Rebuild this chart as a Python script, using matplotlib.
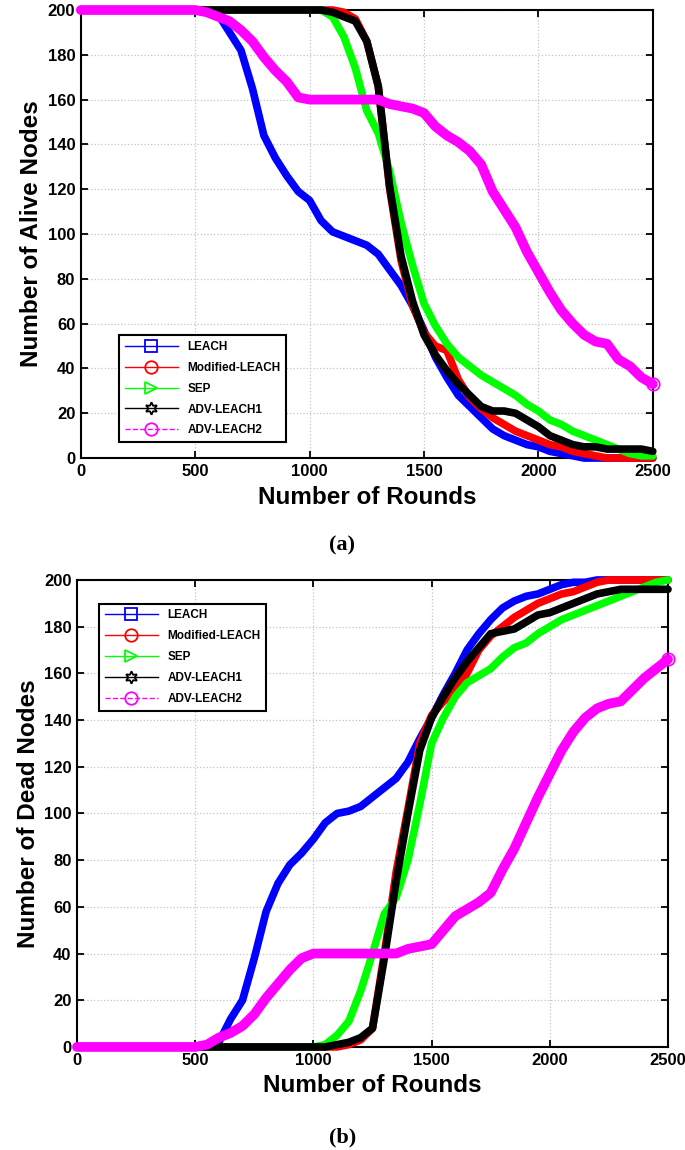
import numpy as np
import matplotlib.pyplot as plt
from matplotlib.lines import Line2D

plt.rcParams["font.family"] = ["Liberation Sans", "DejaVu Sans"]
plt.rcParams["font.weight"] = "bold"

# -- Data (every 50 rounds) ---------------------------------------------------

rounds = np.arange(0, 2501, 50)

# (a) alive nodes
alive_leach = [200] * 12 + [198, 190, 182, 165, 144, 134, 126, 119, 115, 106, 101,
                            99, 97, 95, 91, 84, 77, 68, 57, 45, 36, 28, 23, 18, 13,
                            10, 8, 6, 5, 3, 2, 1] + [0] * 7
alive_mod = [200] * 23 + [199, 196, 186, 166, 120, 88, 68, 56, 50, 48, 35, 27, 22,
                          18, 15, 12, 10, 8, 6, 5, 3, 2, 1] + [0] * 5
alive_sep = [200] * 22 + [197, 188, 174, 155, 145, 128, 105, 86, 69, 59, 51, 45, 41,
                          37, 34, 31, 28, 24, 21, 17, 15, 12, 10, 8, 6, 4, 2, 1, 1]
alive_adv1 = [200] * 22 + [199, 197, 195, 186, 166, 121, 90, 70, 55, 46, 39, 33, 28,
                           23, 21, 21, 20, 17, 14, 10, 8, 6, 5, 5, 4, 4, 4, 4, 3]
alive_adv2 = [200] * 11 + [199, 197, 195, 191, 186, 179, 173, 168, 161] + [160] * 7 + \
             [158, 157, 156, 154, 148, 144, 141, 137, 131, 119, 111, 103, 92, 83, 74,
              66, 60, 55, 52, 51, 44, 41, 36, 33]

# (b) dead nodes
dead_leach = [0] * 12 + [2, 12, 20, 38, 58, 70, 78, 83, 89, 96, 100, 101, 103, 107,
                         111, 115, 122, 132, 141, 151, 160, 170, 177, 183, 188, 191,
                         193, 194, 196, 198, 199, 199] + [200] * 7
dead_mod = [0] * 23 + [1, 3, 8, 40, 75, 102, 130, 142, 148, 152, 160, 170, 176, 180,
                       184, 187, 190, 192, 194, 195, 197, 199] + [200] * 6
dead_sep = [0] * 21 + [1, 5, 11, 24, 40, 57, 64, 80, 104, 130, 141, 150, 156, 159, 162,
                       167, 171, 173, 177, 180, 183, 185, 187, 189, 191, 193, 195, 197,
                       199, 200]
dead_adv1 = [0] * 22 + [1, 2, 4, 8, 38, 71, 100, 127, 141, 150, 158, 165, 171, 177,
                        178, 179, 182, 185, 186, 188, 190, 192, 194, 195] + [196] * 5
dead_adv2 = [0] * 11 + [1, 4, 6, 9, 14, 21, 27, 33, 38] + [40] * 8 + \
            [42, 43, 44, 50, 56, 59, 62, 66, 76, 85, 96, 107, 117, 127, 135, 141, 145,
             147, 148, 153, 158, 162, 166]

names = ["LEACH", "Modified-LEACH", "SEP", "ADV-LEACH1", "ADV-LEACH2"]
colors = ["#0000ff", "#ff0000", "#00ff00", "#000000", "#ff00ff"]
markers = ["s", "o", ">", (6, 1, 0), "o"]
styles = ["-", "-", "-", "-", "--"]
band = [5.5, 5.5, 5.5, 5.5, 7.0]

alive = [alive_leach, alive_mod, alive_sep, alive_adv1, alive_adv2]
dead = [dead_leach, dead_mod, dead_sep, dead_adv1, dead_adv2]

# -- Figure --------------------------------------------------------------------

fig = plt.figure(figsize=(6.85, 11.5), dpi=100)
ax_a = fig.add_axes([0.118, 0.6017, 0.835, 0.3896])
ax_b = fig.add_axes([0.1124, 0.0896, 0.8628, 0.4061])


def draw_panel(ax, series, ylabel, legend_kw):
    for vals, c, w in zip(series, colors, band):
        ax.plot(rounds, vals, color=c, linewidth=w, solid_joinstyle="round",
                solid_capstyle="round", clip_on=False, zorder=3)
    # open circle at the last ADV-LEACH2 point
    ax.plot(rounds[-1:], series[-1][-1:], linestyle="none", marker="o", markersize=9,
            markerfacecolor="none", markeredgecolor=colors[-1], markeredgewidth=1.2,
            clip_on=False, zorder=4)

    ax.set_xlim(0, 2500)
    ax.set_ylim(0, 200)
    ax.set_xticks(range(0, 2501, 500))
    ax.set_yticks(range(0, 201, 20))
    ax.tick_params(direction="in", top=True, right=True, length=5, width=1.3,
                   labelsize=12, pad=4)
    for lab in ax.get_xticklabels() + ax.get_yticklabels():
        lab.set_fontweight("bold")
    for sp in ax.spines.values():
        sp.set_linewidth(1.5)
    ax.grid(True, linestyle=":", color="#c4c4c4", linewidth=0.9)
    ax.set_axisbelow(True)
    ax.set_xlabel("Number of Rounds", fontsize=17.5, fontweight="bold", labelpad=5)
    ax.set_ylabel(ylabel, fontsize=17.5, fontweight="bold", labelpad=3)

    handles = [Line2D([0], [0], color=c, marker=m, linestyle=s, linewidth=1.0,
                      markersize=9, markerfacecolor="none", markeredgewidth=1.3)
               for c, m, s in zip(colors, markers, styles)]
    leg = ax.legend(handles, names, prop={"size": 8.5, "weight": "bold"},
                    handlelength=4.5, labelspacing=0.75, borderpad=0.5,
                    fancybox=False, framealpha=1, edgecolor="black", **legend_kw)
    leg.get_frame().set_linewidth(1.5)
    leg.set_zorder(5)


draw_panel(ax_a, alive, "Number of Alive Nodes",
           dict(loc="lower left", bbox_to_anchor=(0.056, 0.022)))
draw_panel(ax_b, dead, "Number of Dead Nodes",
           dict(loc="upper left", bbox_to_anchor=(0.027, 0.962)))

fig.text(0.5, 1 - 545 / 1150, "(a)", ha="center", va="center", fontsize=16,
         fontweight="bold", family="Liberation Serif")
fig.text(0.5, 1 - 1137 / 1150, "(b)", ha="center", va="center", fontsize=16,
         fontweight="bold", family="Liberation Serif")

fig.savefig("out.png", dpi=100)
